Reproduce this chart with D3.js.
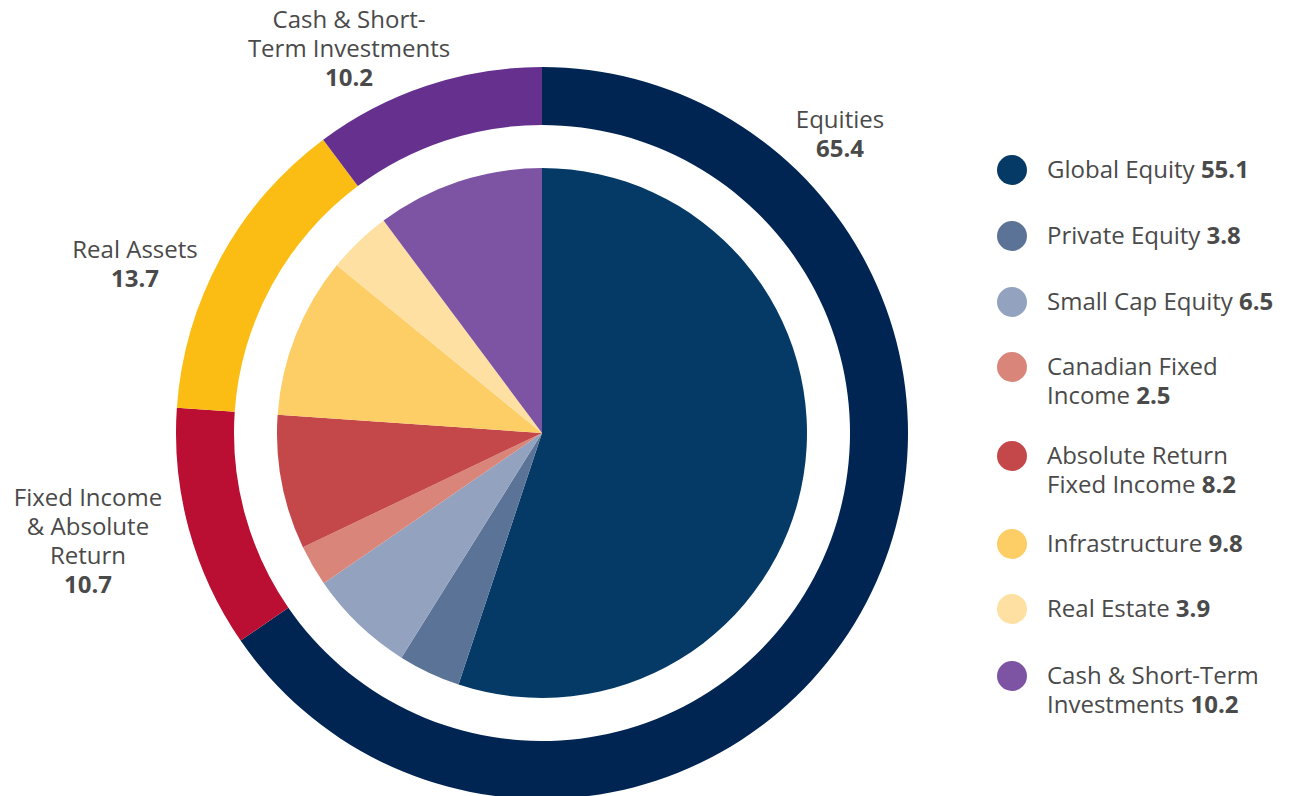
<!DOCTYPE html>
<html><head><meta charset="utf-8">
<script src="https://cdn.jsdelivr.net/npm/d3@7"></script>
<style>
html,body{margin:0;padding:0;background:#fff;}
svg{display:block;font-family:"Open Sans",sans-serif;}
</style></head>
<body><svg id="c" width="1291" height="796"></svg>
<script>
// Inner pie (detail)
const innerNames = ["Global Equity","Private Equity","Small Cap Equity","Canadian Fixed Income","Absolute Return Fixed Income","Infrastructure","Real Estate","Cash & Short-Term Investments"];
const innerValues = [55.1,3.8,6.5,2.5,8.2,9.8,3.9,10.2];
const innerColors = ["#063a66","#5b7397","#93a3bf","#d9857a","#c4474a","#fdcd66","#fee0a3","#7d54a3"];
// Outer ring (groups)
const outerNames = ["Equities","Fixed Income & Absolute Return","Real Assets","Cash & Short-Term Investments"];
const outerValues = [65.4,10.7,13.7,10.2];
const outerColors = ["#002553","#ba0e32","#fbbd13","#66308f"];
// Legend label lines (text wrapping)
const legendLines = [["Global Equity"],["Private Equity"],["Small Cap Equity"],["Canadian Fixed","Income"],["Absolute Return","Fixed Income"],["Infrastructure"],["Real Estate"],["Cash & Short-Term","Investments"]];
const outerLabelLines = [["Equities"],["Fixed Income","& Absolute","Return"],["Real Assets"],["Cash & Short-","Term Investments"]];

// layout
const cx = 542, cy = 433;
const outerR = 366, ringInnerR = 308, pieR = 265;
const outerLabelPos = [[840,128],[88,506],[135,258],[349,28]];
const legendX = 1012, legendTextX = 1047;
const legendY = [170,236,302,367,456,544,609,676];
const lineH = 29;
const fs = 24;
const textColor = "#4a4a4a";

const svg = d3.select("#c");
const g = svg.append("g").attr("transform",`translate(${cx},${cy})`);
const pie = d3.pie().sort(null).value(d=>d);

const outerArc = d3.arc().innerRadius(ringInnerR).outerRadius(outerR);
g.selectAll("path.outer").data(pie(outerValues)).join("path")
  .attr("class","outer").attr("d",outerArc).attr("fill",(d,i)=>outerColors[i]);

const innerArc = d3.arc().innerRadius(0).outerRadius(pieR);
g.selectAll("path.inner").data(pie(innerValues)).join("path")
  .attr("class","inner").attr("d",innerArc).attr("fill",(d,i)=>innerColors[i]);

// outer labels
outerLabelLines.forEach((lines,i)=>{
  const [x,y] = outerLabelPos[i];
  const t = svg.append("text").attr("text-anchor","middle").attr("font-size",fs).attr("fill",textColor);
  lines.forEach((ln,j)=>{
    t.append("tspan").attr("x",x).attr("y",y+j*lineH).text(ln);
  });
  t.append("tspan").attr("x",x).attr("y",y+lines.length*lineH).attr("font-weight",700).text(d3.format(".1f")(outerValues[i]));
});

// legend
innerNames.forEach((n,i)=>{
  const y = legendY[i];
  svg.append("circle").attr("cx",legendX).attr("cy",y).attr("r",15).attr("fill",innerColors[i]);
  const t = svg.append("text").attr("font-size",fs).attr("fill",textColor);
  const lines = legendLines[i];
  lines.forEach((ln,j)=>{
    t.append("tspan").attr("x",legendTextX).attr("y",y+8+j*lineH).text(ln);
    if(j===lines.length-1){
      t.append("tspan").attr("font-weight",700).text(" "+d3.format(".1f")(innerValues[i]));
    }
  });
});
</script></body></html>
